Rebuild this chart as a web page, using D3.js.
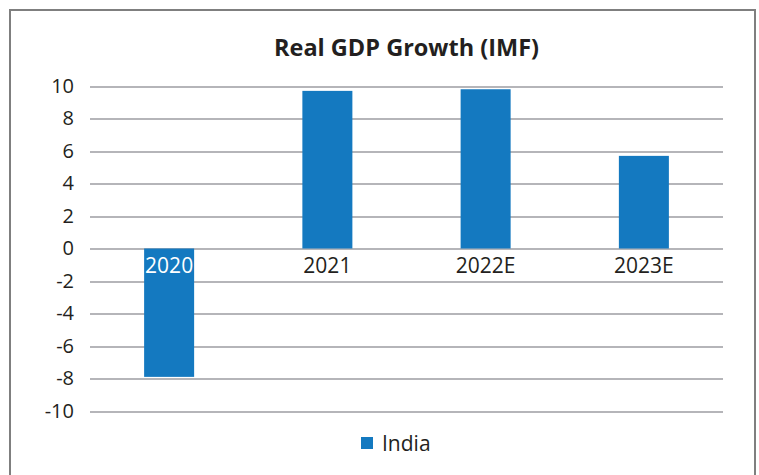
<!DOCTYPE html>
<meta charset="utf-8">
<style>
body {
  margin: 0;
  background-color: #fff;
}
svg text {
  font-family: "Open Sans", sans-serif;
  fill: #231f20;
}
.axis path.domain {
  display: none;
}
.axis--y line {
  stroke: #b5b5b9;
  stroke-width: 2px;
  shape-rendering: crispEdges;
}
.bar {
  fill: #1479c0;
}
</style>
<body>
<svg width="759" height="475"></svg>

<script src="https://d3js.org/d3.v7.min.js"></script>
<script>

// data
var years = ["2020", "2021", "2022E", "2023E"];
var growth = [-7.9, 9.7, 9.8, 5.7];
var yTicks = [-10, -8, -6, -4, -2, 0, 2, 4, 6, 8, 10];
var seriesName = "India";
var chartTitle = "Real GDP Growth (IMF)";

var plot = {left: 90, right: 723, top: 86, bottom: 411};

var svg = d3.select("svg");

// outer frame, bottom edge runs off the picture
svg.append("rect")
  .attr("x", 10)
  .attr("y", 10)
  .attr("width", 745)
  .attr("height", 490)
  .attr("fill", "none")
  .attr("stroke", "#7f7f7f")
  .attr("stroke-width", 2);

svg.append("text")
  .attr("x", (plot.left + plot.right) / 2)
  .attr("y", 56)
  .attr("text-anchor", "middle")
  .style("font-weight", "bold")
  .style("font-size", "23.5px")
  .text(chartTitle);

var x = d3.scaleBand()
  .domain(years)
  .range([plot.left, plot.right])
  .paddingInner(0.684)
  .paddingOuter(0.342);

var y = d3.scaleLinear()
  .domain([-10, 10])
  .range([plot.bottom, plot.top]);

// plain hyphen for negatives, like the original
var yAxis = d3.axisLeft(y)
  .tickValues(yTicks)
  .tickFormat(function(d) { return String(d); })
  .tickSize(-(plot.right - plot.left))
  .tickPadding(16);

var gY = svg.append("g")
  .attr("class", "axis axis--y")
  .attr("transform", "translate(" + plot.left + ",0)")
  .call(yAxis);

gY.selectAll("text")
  .style("font-size", "20px")
  .attr("fill", "#231f20");

svg.selectAll(".bar")
  .data(years)
  .enter()
  .append("rect")
  .attr("class", "bar")
  .attr("x", function(d) { return x(d); })
  .attr("width", x.bandwidth())
  .attr("y", function(d, i) { return y(Math.max(0, growth[i])); })
  .attr("height", function(d, i) { return Math.abs(y(growth[i]) - y(0)); });

var xAxis = d3.axisBottom(x)
  .tickSize(0)
  .tickPadding(10);

var gX = svg.append("g")
  .attr("class", "axis axis--x")
  .attr("transform", "translate(0," + y(0) + ")")
  .call(xAxis);

gX.selectAll("text")
  .style("font-size", "21px")
  .style("fill", function(d, i) { return growth[i] < 0 ? "#fff" : "#231f20"; });

// legend
var legend = svg.append("g")
  .attr("transform", "translate(361,437)");

legend.append("rect")
  .attr("width", 12)
  .attr("height", 12)
  .attr("class", "bar");

legend.append("text")
  .attr("x", 21)
  .attr("y", 14)
  .style("font-size", "21px")
  .text(seriesName);

</script>
</body>
